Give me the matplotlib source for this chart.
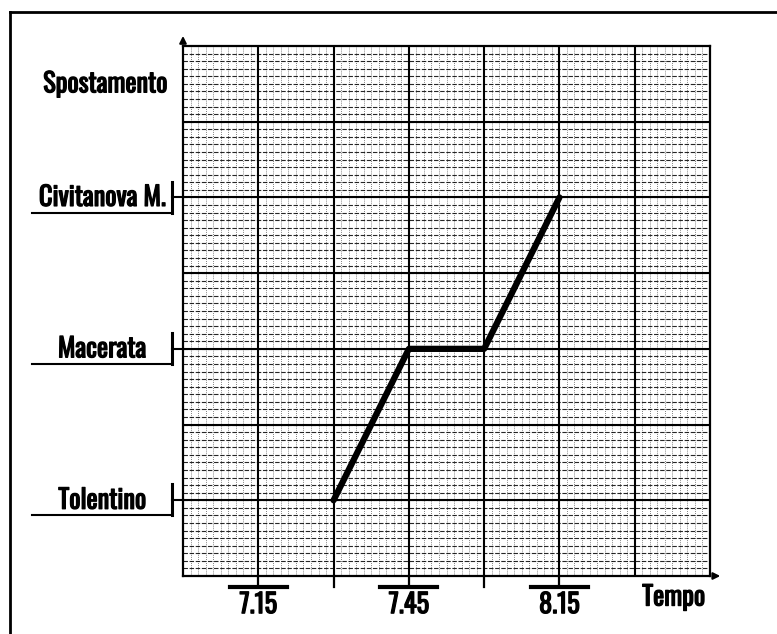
import numpy as np
import matplotlib.pyplot as plt
import matplotlib.patheffects as pe
from matplotlib.lines import Line2D

# dati: tempo in minuti dopo le 7.00, spostamento in quadretti
places = ['Tolentino', 'Macerata', 'Civitanova M.']
place_pos = [1, 3, 5]
t_min = [30, 45, 60, 75]
pos = [1, 3, 3, 5]
tick_min = [15, 30, 45, 60, 75]
tick_labels = ['7.15', '', '7.45', '', '8.15']

plt.rcParams['font.family'] = ['Oswald', 'Antonio', 'Barlow Condensed', 'DejaVu Sans']
plt.rcParams['font.weight'] = 'bold'
FS = 19
bold = [pe.withStroke(linewidth=0.9, foreground='black')]  # tratto più spesso

W, H = 777, 634
fig = plt.figure(figsize=(W / 100, H / 100), dpi=100)
ax = fig.add_axes([183 / W, (H - 576) / H, (710 - 183) / W, (576 - 46) / H])
ax.set_xlim(0, 105)
ax.set_ylim(0, 7)
ax.set_xticks([])
ax.set_yticks([])
for s in ax.spines.values():
    s.set_linewidth(1.6)

# carta millimetrata
for v in np.arange(0, 105, 1.5):
    ax.axvline(v, color='0.35', lw=0.6, ls=(0, (1, 1.5)), zorder=1)
for h in np.arange(0, 7, 0.1):
    ax.axhline(h, color='black', lw=0.8, ls=(0, (4, 1.5)), alpha=0.85, zorder=1)
for v in range(15, 105, 15):
    ax.axvline(v, color='black', lw=1.5, zorder=2)
for h in range(1, 7):
    ax.axhline(h, color='black', lw=1.5, zorder=2)

# grafico orario
ax.plot(t_min, pos, color='black', lw=4.5, solid_capstyle='round', zorder=5)

# frecce degli assi
ax.annotate('', xy=(107.6, 0), xytext=(105, 0), annotation_clip=False,
            arrowprops=dict(arrowstyle='-|>', color='black', lw=1.5, mutation_scale=10))
ax.annotate('', xy=(0, 7.17), xytext=(0, 7), annotation_clip=False,
            arrowprops=dict(arrowstyle='-|>', color='black', lw=1.5, mutation_scale=10))

# etichette delle località
for name, y in zip(places, place_pos):
    ax.text(-16.1, y, name, ha='center', va='center', fontsize=FS, clip_on=False,
            path_effects=bold)
    ax.plot([-30.1, -2.2], [y - 0.2, y - 0.2], color='black', lw=1.5, clip_on=False)
    ax.plot([-2.2, -2.2], [y - 0.2, y + 0.21], color='black', lw=2.2, clip_on=False)
    ax.plot([-2.2, 0], [y, y], color='black', lw=1.5, clip_on=False)
ax.text(-15.5, 6.5, 'Spostamento', ha='center', va='center', fontsize=FS, clip_on=False,
        path_effects=bold)

# tacche del tempo
for m, lab in zip(tick_min, tick_labels):
    ax.plot([m, m], [0, -0.15], color='black', lw=1.6, clip_on=False)
    if lab:
        ax.plot([m - 5.7, m + 5.7], [-0.15, -0.15], color='black', lw=3, clip_on=False)
        ax.text(m, -0.2, lab, ha='center', va='top', fontsize=FS, clip_on=False,
                path_effects=bold)
ax.text(91.5, -0.1, 'Tempo', ha='left', va='top', fontsize=FS, clip_on=False,
        path_effects=bold)

# cornice della pagina
fig.add_artist(Line2D([10 / W, 1], [1 - 12 / H, 1 - 12 / H], color='black', lw=2))
fig.add_artist(Line2D([10 / W, 10 / W], [0, 1 - 12 / H], color='black', lw=2))

fig.savefig('out.png', dpi=100)
